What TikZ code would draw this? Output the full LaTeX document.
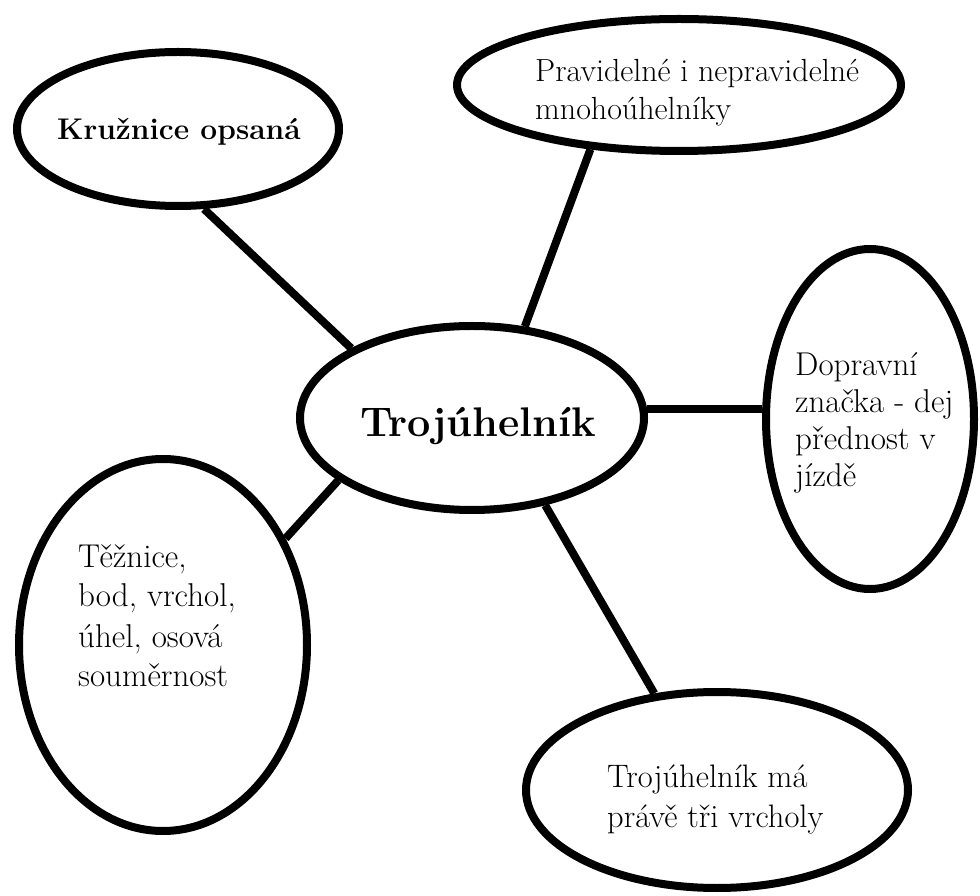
\documentclass[tikz,border=0pt]{standalone}
\usetikzlibrary{positioning,shapes.geometric}

\begin{document}
\begin{tikzpicture}[x=1pt,y=1pt,
  bubble/.style={draw,ellipse,line width=8pt,inner sep=0pt},
  link/.style={line width=8pt},
  leaf/.style={anchor=base west,align=left,inner sep=0pt,font=\fontsize{32.5}{40}\selectfont}]
  \useasboundingbox (0,0) rectangle (980,895);

  % bubbles
  \node[bubble,minimum width=322pt,minimum height=154pt] (kruz) at (178,766) {};
  \node[bubble,minimum width=444pt,minimum height=132pt] (mnoho) at (679,810) {};
  \node[bubble,minimum width=344pt,minimum height=184pt] (troj) at (472,477) {};
  \node[bubble,minimum width=208pt,minimum height=340pt] (dopr) at (870,476) {};
  \node[bubble,minimum width=288pt,minimum height=372pt] (tez) at (163,250) {};
  \node[bubble,minimum width=382pt,minimum height=196pt] (vrch) at (717,105) {};

  % texts (base = last line)
  \node[leaf,font=\bfseries\fontsize{29.9}{36}\selectfont] (kruzT) at (57,755) {Kružnice opsaná};
  \node[leaf,font=\fontsize{32}{38}\selectfont] (mnohoT) at (535,775) {Pravidelné i nepravidelné\\mnohoúhelníky};
  \node[leaf,font=\bfseries\fontsize{41.4}{48}\selectfont] (trojT) at (360,458) {Trojúhelník};
  \node[leaf,font=\fontsize{33}{37}\selectfont] (doprT) at (795,408) {Dopravní\\značka - dej\\přednost v\\jízdě};
  \node[leaf,font=\fontsize{33}{40}\selectfont] (tezT) at (78,208) {Těžnice,\\bod, vrchol,\\úhel, osová\\souměrnost};
  \node[leaf] (vrchT) at (607,68) {Trojúhelník má\\právě tři vrcholy};

  % links
  \draw[link] (kruz.-72.8) -- (troj.150.5);
  \draw[link] (mnoho.216.4) -- (troj.60.4);
  \draw[link] (troj.3) -- (troj.3 -| dopr.west);
  \draw[link] (tez.41.2) -- (troj.205.2);
  \draw[link] (troj.-50.8) -- (vrch.123.7);
\end{tikzpicture}
\end{document}
